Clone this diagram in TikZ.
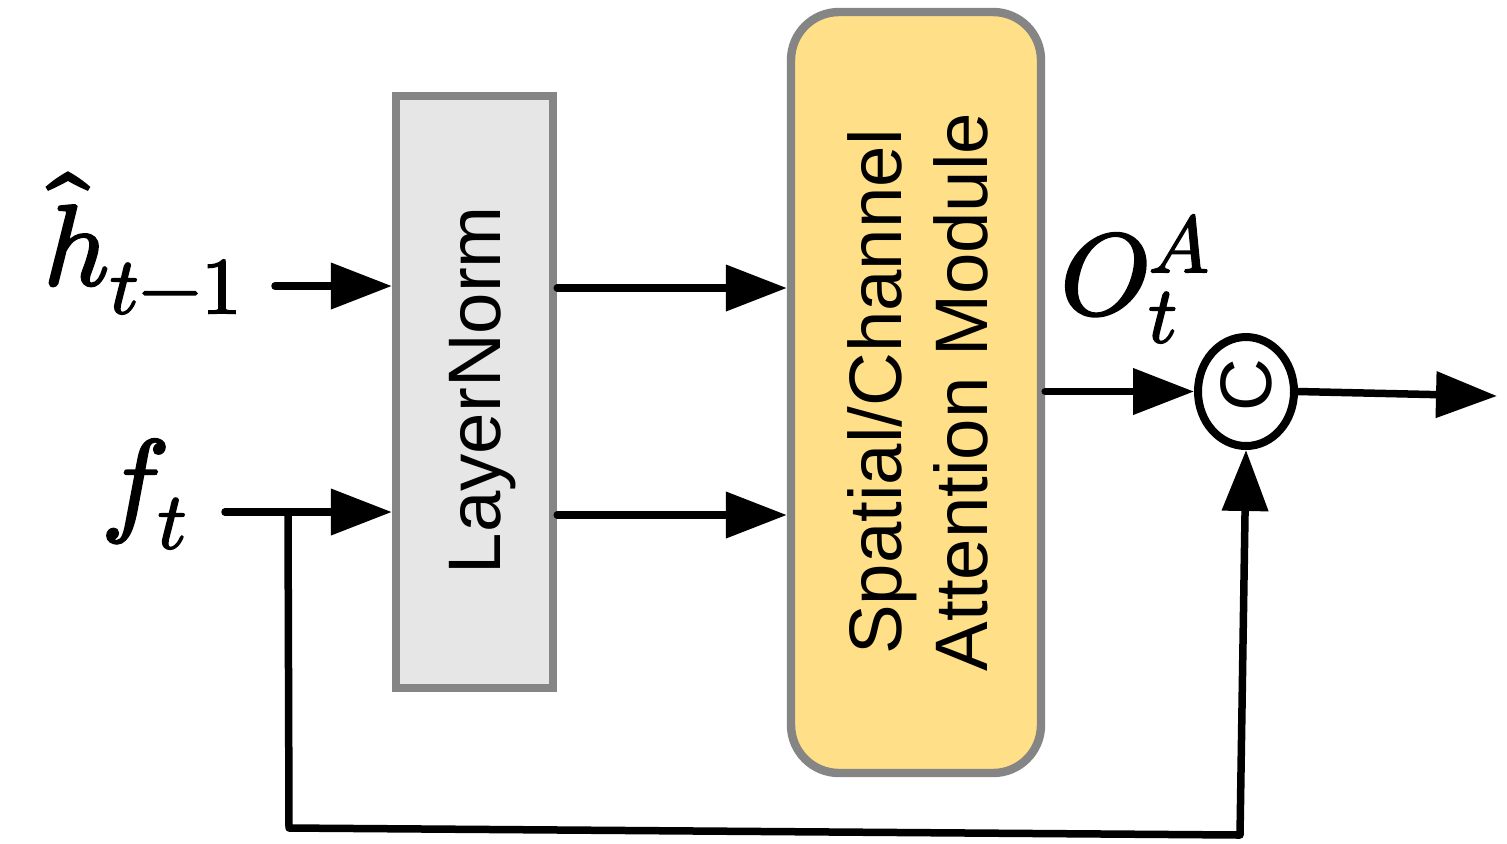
\documentclass[tikz,border=0pt]{standalone}
\usepackage{unicode-math}
\setmathfont{Latin Modern Math}[FakeBold=2]
\newfontfamily\lsans{Liberation Sans}
\usepackage{graphicx}
\usetikzlibrary{arrows.meta,shapes.geometric}
\definecolor{boxgray}{HTML}{E6E6E6}
\definecolor{bordergray}{HTML}{858585}
\definecolor{attyellow}{HTML}{FFDF87}
\begin{document}
\begin{tikzpicture}[x=0.5pt,y=-0.5pt,
  blk/.style={draw=bordergray, line width=4.2pt, inner sep=0pt},
  lbl/.style={font=\lsans\fontsize{37.2}{43}\selectfont, inner sep=0pt, text=black},
  mlbl/.style={font=\fontsize{57.5}{60}\selectfont, inner sep=0pt},
  arr/.style={line width=3.75pt, line cap=round, line join=round, -{Triangle[length=30.5pt,width=22.5pt]}},
  catnode/.style={draw, ellipse, line width=4pt, inner sep=0pt, minimum width=48pt, minimum height=54.5pt, font=\lsans\fontsize{36.5}{40}\selectfont}]
\useasboundingbox (0,0) rectangle (1507,843);
% blocks
\node[blk, fill=boxgray, minimum width=78.5pt, minimum height=296pt] (ln) at (474.5,392) {};
\node[blk, fill=attyellow, rounded corners=24pt, minimum width=125pt, minimum height=380.5pt] (att) at (916,392.5) {};
\node[lbl, rotate=90, anchor=base] (lnlbl) at (500,390) {LayerNorm};
\node[lbl, rotate=90, align=center] (attlbl) at (918,392) {Spatial/Channel\\Attention Module};
\node[catnode] (cc) at (1246,391.5) {\raisebox{6pt}{\rotatebox{90}{C}}};
% math labels
\node[mlbl, anchor=base east] (hhat) at (243,285) {$\hat{h}_{t-1}$};
\node[mlbl, anchor=base east] (ft) at (188,520) {$f_t$};
\node[mlbl, anchor=base west] (oa) at (1060,314) {$O_t^A$};
% coordinates
\coordinate (hs) at (275,286);
\coordinate (fs) at (225,512);
\coordinate (j) at (288,512);
\coordinate (fb1) at (289,828);
\coordinate (fb2) at (1240,835);
\coordinate (out) at (1497,396);
\coordinate (r1) at (556,288);
\coordinate (r2) at (556,515);
% connectors
\draw[arr] (hs) -- (hs -| ln.west);
\draw[arr] (fs) -- (fs -| ln.west);
\draw[arr] (ln.east |- r1) -- (att.west |- r1);
\draw[arr] (ln.east |- r2) -- (att.west |- r2);
\draw[arr] (att.east |- cc.west) -- (cc.west);
\draw[arr] (cc.east) -- (out);
\draw[arr] (j) -- (fb1) -- (fb2) -- (cc.south);
\end{tikzpicture}
\end{document}
